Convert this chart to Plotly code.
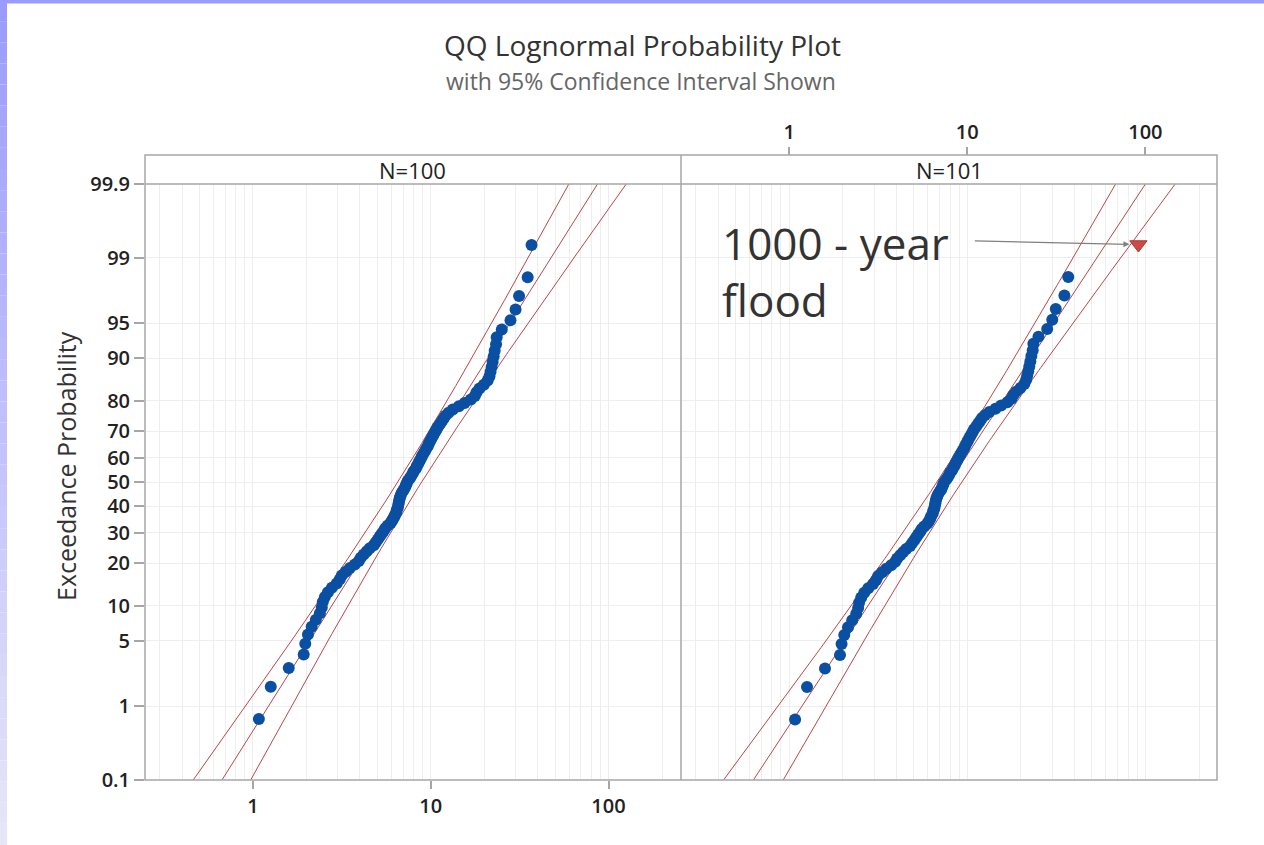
import math
from statistics import NormalDist
import plotly.graph_objects as go

# ---------------- data ----------------
flow_values = [1.08, 1.26, 1.59, 1.93, 1.97, 2.04, 2.14, 2.26, 2.38, 2.44,
               2.47, 2.54, 2.64, 2.78, 2.96, 3.08, 3.16, 3.33, 3.51, 3.74,
               3.94, 4.04, 4.2, 4.37, 4.54, 4.78, 4.91, 5.04, 5.17, 5.3,
               5.44, 5.55, 5.73, 5.96, 6.08, 6.2, 6.28, 6.4, 6.44, 6.53,
               6.57, 6.61, 6.65, 6.7, 6.78, 6.87, 7.01, 7.15, 7.24, 7.33,
               7.43, 7.62, 7.77, 7.92, 8.02, 8.24, 8.34, 8.51, 8.62, 8.79,
               8.9, 9.08, 9.25, 9.43, 9.62, 9.75, 9.94, 10.1, 10.3, 10.5,
               10.7, 10.9, 11.2, 11.5, 11.8, 12.1, 12.6, 13.3, 14.4, 15.5,
               16.8, 17.7, 18.1, 18.8, 19.9, 20.9, 21.4, 21.7, 22.0, 22.3,
               22.6, 22.9, 23.3, 23.5, 25.1, 28.1, 30.0, 31.4, 35.1, 36.9]

prob_n100 = [0.70, 1.69, 2.69, 3.69, 4.68, 5.68, 6.67, 7.67, 8.67, 9.66,
             10.66, 11.65, 12.65, 13.65, 14.64, 15.64, 16.63, 17.63, 18.63, 19.62,
             20.62, 21.61, 22.61, 23.61, 24.60, 25.60, 26.59, 27.59, 28.59, 29.58,
             30.58, 31.57, 32.57, 33.57, 34.56, 35.56, 36.55, 37.55, 38.55, 39.54,
             40.54, 41.53, 42.53, 43.53, 44.52, 45.52, 46.51, 47.51, 48.51, 49.50,
             50.50, 51.49, 52.49, 53.49, 54.48, 55.48, 56.47, 57.47, 58.47, 59.46,
             60.46, 61.45, 62.45, 63.45, 64.44, 65.44, 66.43, 67.43, 68.43, 69.42,
             70.42, 71.41, 72.41, 73.41, 74.40, 75.40, 76.39, 77.39, 78.39, 79.38,
             80.38, 81.38, 82.37, 83.37, 84.36, 85.36, 86.36, 87.35, 88.35, 89.34,
             90.34, 91.34, 92.33, 93.33, 94.32, 95.32, 96.32, 97.31, 98.31, 99.30]

prob_n101 = [0.69, 1.68, 2.66, 3.65, 4.64, 5.62, 6.61, 7.59, 8.58, 9.57,
             10.55, 11.54, 12.53, 13.51, 14.50, 15.48, 16.47, 17.46, 18.44, 19.43,
             20.41, 21.40, 22.39, 23.37, 24.36, 25.35, 26.33, 27.32, 28.30, 29.29,
             30.28, 31.26, 32.25, 33.24, 34.22, 35.21, 36.19, 37.18, 38.17, 39.15,
             40.14, 41.12, 42.11, 43.10, 44.08, 45.07, 46.06, 47.04, 48.03, 49.01,
             50.00, 50.99, 51.97, 52.96, 53.95, 54.93, 55.92, 56.90, 57.89, 58.88,
             59.86, 60.85, 61.83, 62.82, 63.81, 64.79, 65.78, 66.77, 67.75, 68.74,
             69.72, 70.71, 71.70, 72.68, 73.67, 74.66, 75.64, 76.63, 77.61, 78.60,
             79.59, 80.57, 81.56, 82.54, 83.53, 84.52, 85.50, 86.49, 87.48, 88.46,
             89.45, 90.43, 91.42, 92.41, 93.39, 94.38, 95.37, 96.35, 97.34, 98.32]

flood_value = 91.4
flood_prob = 99.31

# lognormal fit parameters (log10 scale)
fit_left = dict(mu=0.882, sigma=0.3418, n=100)
fit_right = dict(mu=0.8997, sigma=0.3561, n=101)

prob_ticks = [0.1, 1, 5, 10, 20, 30, 40, 50, 60, 70, 80, 90, 95, 99, 99.9]
prob_tick_labels = ["0.1", "1", "5", "10", "20", "30", "40", "50", "60", "70",
                    "80", "90", "95", "99", "99.9"]
x_ticks = [1, 10, 100]
x_tick_labels = ["1", "10", "100"]
x_minor = [0.3, 0.4, 0.5, 0.6, 0.7, 0.8, 0.9, 2, 3, 4, 5, 6, 7, 8, 9,
           20, 30, 40, 50, 60, 70, 80, 90, 200]

# ---------------- helpers ----------------
W, H = 1264, 845
nd = NormalDist()


def zq(pct):
    return nd.inv_cdf(pct / 100.0)


def px(x):
    return x / W


def py(y):
    return 1 - y / H


def fit_lines(fit):
    zs = [-3.3 + i * 6.6 / 200 for i in range(201)]
    c, lo, hi = [], [], []
    for z in zs:
        m = fit["mu"] + fit["sigma"] * z
        h = 1.96 * fit["sigma"] * math.sqrt(1 / fit["n"] + z * z / (2 * fit["n"]))
        c.append(10 ** m)
        lo.append(10 ** (m - h))
        hi.append(10 ** (m + h))
    return zs, c, lo, hi


LINE_COL = "#b8474a"
PT_COL = "#0a4fa2"
GRID = "#eeeeee"
FRAME = "#a6a6a6"
FONT = "Open Sans"

fig = go.Figure()

for fit, xa, ya in [(fit_left, "x", "y"), (fit_right, "x2", "y2")]:
    zs, c, lo, hi = fit_lines(fit)
    for arr in (lo, c, hi):
        fig.add_trace(go.Scatter(x=arr, y=zs, mode="lines", xaxis=xa, yaxis=ya,
                                 line=dict(color=LINE_COL, width=1),
                                 hoverinfo="skip", showlegend=False))

fig.add_trace(go.Scatter(x=flow_values, y=[zq(p) for p in prob_n100], mode="markers",
                         xaxis="x", yaxis="y",
                         marker=dict(color=PT_COL, size=12), showlegend=False))
fig.add_trace(go.Scatter(x=flow_values, y=[zq(p) for p in prob_n101], mode="markers",
                         xaxis="x2", yaxis="y2",
                         marker=dict(color=PT_COL, size=12), showlegend=False))
fig.add_trace(go.Scatter(x=[flood_value], y=[zq(flood_prob)], mode="markers",
                         xaxis="x2", yaxis="y2",
                         marker=dict(color="#cc4b45", size=15, symbol="triangle-down",
                                     line=dict(color="#a83a36", width=1)),
                         showlegend=False))

zmin, zmax = zq(0.1), zq(99.9)
XR = [-0.607, 2.402]
tickfont = dict(family=FONT, size=20, color="#222222", weight=600)

common_x = dict(type="log", range=XR, tickvals=x_ticks, ticktext=x_tick_labels,
                ticks="outside", ticklen=8, tickcolor=FRAME, tickwidth=1.5,
                showgrid=True, gridcolor=GRID, gridwidth=1, zeroline=False,
                showline=False, tickfont=tickfont, automargin=False,
                minor=dict(tickvals=x_minor, showgrid=True, gridcolor=GRID,
                           gridwidth=1, ticks=""))
common_y = dict(range=[zmin, zmax], tickvals=[zq(p) for p in prob_ticks],
                ticktext=prob_tick_labels, showgrid=True, gridcolor=GRID,
                zeroline=False, showline=False, automargin=False)

fig.update_layout(
    width=W, height=H, autosize=False,
    margin=dict(l=0, r=0, t=0, b=0, pad=0),
    paper_bgcolor="white", plot_bgcolor="white",
    showlegend=False,
    xaxis=dict(domain=[px(145), px(680)], anchor="y", **common_x),
    yaxis=dict(domain=[py(780), py(184)], anchor="x", ticks="outside", ticklen=10,
               tickcolor=FRAME, tickwidth=1.5, tickfont=tickfont, **common_y),
    xaxis2=dict(domain=[px(681), px(1217)], anchor="free", position=py(155),
                side="top", **common_x),
    yaxis2=dict(domain=[py(780), py(184)], anchor="x2", ticks="",
                showticklabels=False, **common_y),
)

shapes = [
    # outer frame
    dict(type="rect", xref="paper", yref="paper", x0=px(145), x1=px(1217),
         y0=py(780), y1=py(155), line=dict(color=FRAME, width=1.5)),
    dict(type="line", xref="paper", yref="paper", x0=px(145), x1=px(1217),
         y0=py(184), y1=py(184), line=dict(color=FRAME, width=1.5)),
    dict(type="line", xref="paper", yref="paper", x0=px(681), x1=px(681),
         y0=py(780), y1=py(155), line=dict(color=FRAME, width=1.5)),
    # top bar
    dict(type="rect", xref="paper", yref="paper", x0=0, x1=1, y0=py(3.5), y1=1,
         line=dict(width=0), fillcolor="#9b9bff", layer="above"),
]
# left gradient bar
steps = 40
c0 = (0x9b, 0x9b, 0xff)
c1 = (0xe6, 0xe6, 0xf8)
for i in range(steps):
    t = i / (steps - 1)
    col = tuple(round(c0[k] + (c1[k] - c0[k]) * t) for k in range(3))
    shapes.append(dict(type="rect", xref="paper", yref="paper", x0=0, x1=px(7),
                       y0=1 - (i + 1) / steps, y1=1 - i / steps,
                       line=dict(width=0), fillcolor="rgb(%d,%d,%d)" % col))
fig.update_layout(shapes=shapes)


def label(text, x, y, size, color, **kw):
    d = dict(text=text, x=px(x), y=py(y), xref="paper", yref="paper", showarrow=False,
             xanchor=kw.pop("xanchor", "center"), yanchor="middle",
             font=dict(family=FONT, size=size, color=color))
    d.update(kw)
    return d


annotations = [
    label("QQ Lognormal Probability Plot", 642, 45, 28, "#333333"),
    label("with 95% Confidence Interval Shown", 641, 81, 23, "#666666"),
    label("Exceedance Probability", 66, 466, 25, "#333333", textangle=-90),
    label("N=100", 412, 170, 22, "#222222"),
    label("N=101", 949, 170, 22, "#222222"),
    label("1000 - year<br>flood", 720, 271, 44, "#333333", xanchor="left",
          align="left"),
    dict(text="", x=math.log10(flood_value), y=zq(flood_prob), xref="x2", yref="y2",
         ax=1.034, ay=2.50, axref="x2", ayref="y2", showarrow=True,
         arrowhead=2, arrowsize=1, arrowwidth=1.2, arrowcolor="#808080", standoff=9),
]
fig.update_layout(annotations=annotations)

fig.write_html("out.html",
               config={"displayModeBar": False},
               post_script="document.body.style.margin='0';"
                           "document.body.style.overflow='hidden';")
